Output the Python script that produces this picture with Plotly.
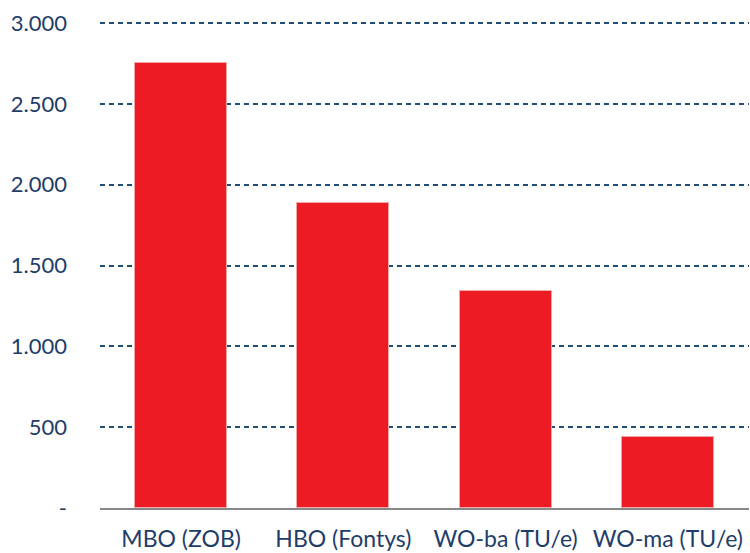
import plotly.graph_objects as go

# data
categories = ["MBO (ZOB)", "HBO (Fontys)", "WO-ba (TU/e)", "WO-ma (TU/e)"]
values = [2750, 1885, 1345, 440]
tick_vals = [0, 500, 1000, 1500, 2000, 2500, 3000]
tick_text = ["-", "500", "1.000", "1.500", "2.000", "2.500", "3.000"]

navy = "#1F3D6B"

fig = go.Figure()
fig.add_trace(go.Bar(
    x=categories,
    y=values,
    width=0.567,
    marker=dict(color="#ED1C24", line=dict(color="#F4A6A8", width=1)),
))

fig.update_layout(
    width=750,
    height=553,
    margin=dict(l=100, r=1, t=18, b=45, autoexpand=False),
    paper_bgcolor="white",
    plot_bgcolor="white",
    font=dict(family="Lato", size=22, color=navy),
    showlegend=False,
    bargap=0,
)
fig.update_xaxes(
    automargin=False,
    showline=True,
    linecolor="#888888",
    linewidth=2,
    showgrid=False,
    ticks="",
    tickfont=dict(size=23),
    ticklabelstandoff=9,
)
# a little headroom so the 3.000 gridline is drawn
fig.update_yaxes(
    automargin=False,
    range=[0, 3031],
    tickvals=tick_vals,
    ticktext=tick_text,
    showgrid=True,
    gridcolor="#1F4E79",
    gridwidth=1.5,
    griddash="5px,4px",
    zeroline=False,
    showline=False,
    ticks="",
    ticklabelstandoff=32,
)

fig.write_html(
    "out.html",
    config={"displayModeBar": False},
    post_script="document.body.style.margin='0';",
)
